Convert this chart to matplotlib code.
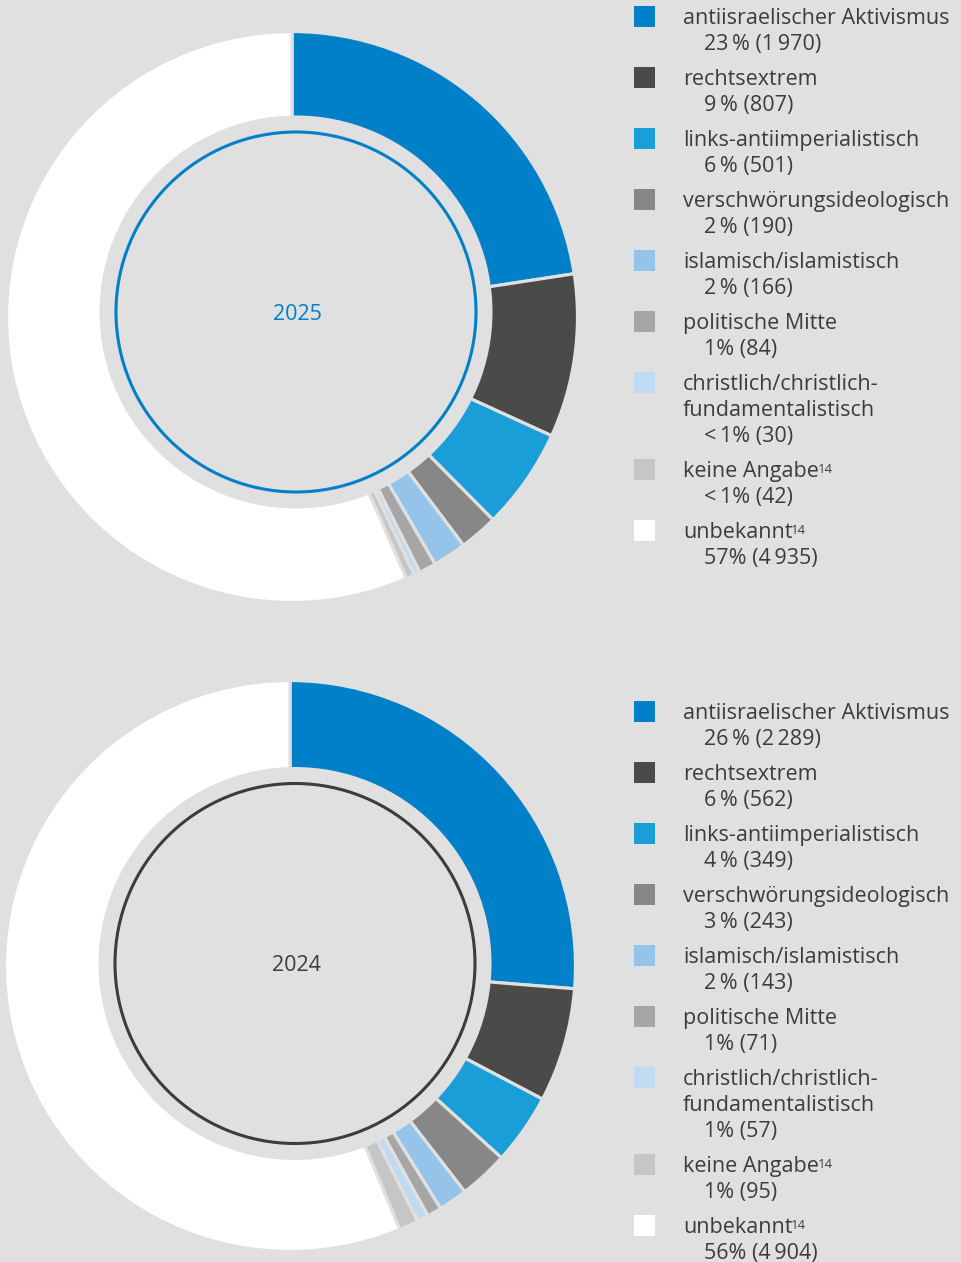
import matplotlib.pyplot as plt
from matplotlib.patches import Circle, Rectangle

# Data
categories = [
    "antiisraelischer Aktivismus",
    "rechtsextrem",
    "links-antiimperialistisch",
    "verschwörungsideologisch",
    "islamisch/islamistisch",
    "politische Mitte",
    "christlich/christlich-\nfundamentalistisch",
    "keine Angabe",
    "unbekannt",
]
footnote = ["", "", "", "", "", "", "", "14", "14"]
colors = ["#0080c8", "#4a4a49", "#199ed8", "#878787", "#95c4ea",
          "#a5a6a5", "#c0daf2", "#c6c6c6", "#ffffff"]

counts_2025 = [1970, 807, 501, 190, 166, 84, 30, 42, 4935]
labels_2025 = ["23\u2009% (1\u2009970)", "9\u2009% (807)", "6\u2009% (501)", "2\u2009% (190)",
               "2\u2009% (166)", "1% (84)", "<\u20091% (30)", "<\u20091% (42)",
               "57% (4\u2009935)"]

counts_2024 = [2289, 562, 349, 243, 143, 71, 57, 95, 4904]
labels_2024 = ["26\u2009% (2\u2009289)", "6\u2009% (562)", "4\u2009% (349)", "3\u2009% (243)",
               "2\u2009% (143)", "1% (71)", "1% (57)", "1% (95)",
               "56% (4\u2009904)"]

BG = "#e0e0e0"
TEXT = "#3c3c3b"
H = 1262
FS = 15.5

plt.rcParams["font.family"] = ["Open Sans", "DejaVu Sans"]

fig = plt.figure(figsize=(9.62, 12.62), dpi=100, facecolor=BG)
ax = fig.add_axes([0, 0, 1, 1])
ax.set_facecolor(BG)


def draw_donut(counts, center, hole, year, ring_color):
    # the hole in the original is slightly off the ring's centre
    cx, cy = center[0], H - center[1]
    hx, hy = hole[0], H - hole[1]
    ax.pie(counts, colors=colors, center=(cx, cy), radius=285.5,
           startangle=90, counterclock=False,
           wedgeprops=dict(width=150, edgecolor=BG, linewidth=2.3))
    ax.add_patch(Circle((hx, hy), 196.5, facecolor=BG, edgecolor="none", zorder=3))
    ax.add_patch(Circle((hx, hy), 180, fill=False, edgecolor=ring_color,
                        linewidth=2.2, zorder=4))
    ax.text(hx + 1, hy - 2, year, color=ring_color, fontsize=FS,
            ha="center", va="center", zorder=5)


def draw_legend(labels, first_baseline):
    y = first_baseline
    for cat, lab, col, fn in zip(categories, labels, colors, footnote):
        ax.add_patch(Rectangle((634, H - y + 7.5 - 10.5), 21, 21, facecolor=col,
                               edgecolor="none"))
        lines = cat.split("\n")
        for i, line in enumerate(lines):
            t = ax.text(683, H - (y + 26 * i), line, color=TEXT, fontsize=FS,
                        va="baseline", ha="left")
        if fn:
            ax.annotate(fn, xy=(1, 1), xycoords=t, xytext=(-1.0, -1.5),
                        textcoords="offset points", fontsize=9.5,
                        color=TEXT, va="top", ha="left")
        y2 = y + 26 * len(lines)
        ax.text(704, H - y2, lab, color=TEXT, fontsize=FS, va="baseline",
                ha="left")
        y += 61 + 26 * (len(lines) - 1)


draw_donut(counts_2025, (292, 317), (296, 312), "2025", "#0080c8")
draw_donut(counts_2024, (290, 966), (295, 963.5), "2024", "#3c3c3b")
draw_legend(labels_2025, 24)
draw_legend(labels_2024, 719)

ax.set_xlim(0, 962)
ax.set_ylim(0, H)
ax.set_aspect("auto")
ax.set_axis_off()

fig.savefig("out.png", dpi=100, facecolor=BG)
